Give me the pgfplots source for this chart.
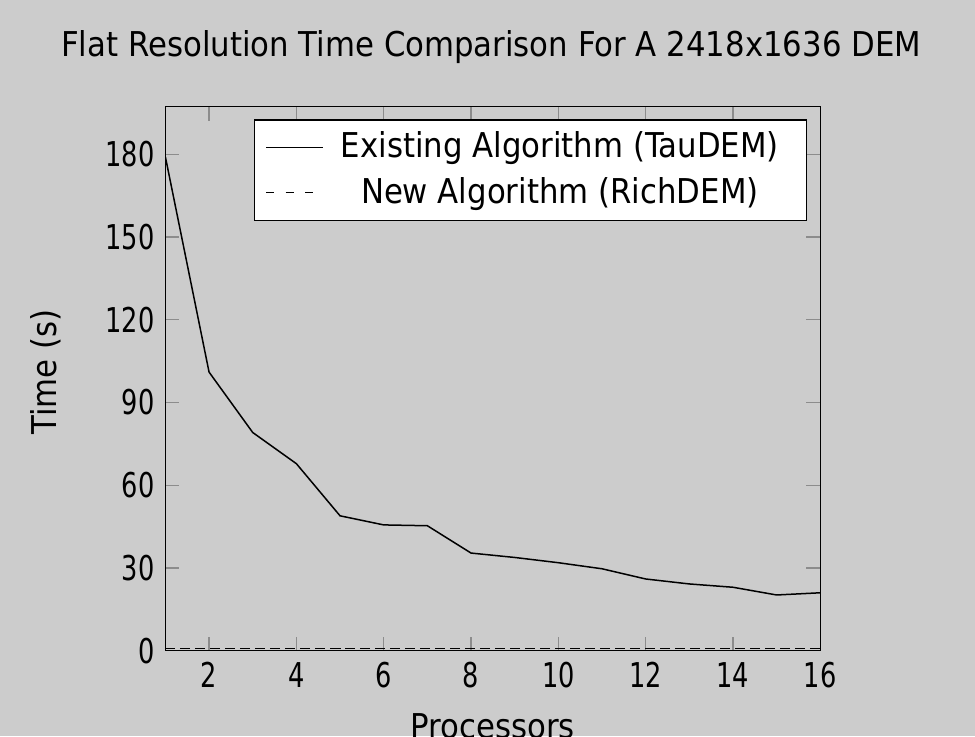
\documentclass[border=0pt]{standalone}
\usepackage{fontspec}
\setmainfont{DejaVu Sans}[FakeStretch=0.9]
\newfontfamily\numfont{DejaVu Sans}[FakeStretch=0.75]
\usepackage{pgfplots}
\pgfplotsset{compat=1.18}
\definecolor{bg}{HTML}{CCCCCC}
\definecolor{tickgray}{HTML}{8C8C8C}

\begin{document}
\fontsize{17.1}{20.5}\selectfont
\begin{tikzpicture}
\path[use as bounding box, fill=bg] (0,0) rectangle (487.5pt,368pt);
\clip (0,0) rectangle (487.5pt,368pt);
\begin{axis}[
  at={(82.7pt,42.65pt)}, anchor=south west,
  scale only axis, width=327.45pt, height=272pt,
  xmin=1, xmax=16, ymin=0, ymax=197.2,
  xtick={2,4,...,16}, ytick={0,30,...,180},
  /pgf/number format/assume math mode=true,
  axis line style={line width=0.75pt},
  tick align=inside, major tick length=7pt,
  tick style={tickgray, line width=0.6pt},
  ticklabel style={font=\numfont},
  yticklabel style={inner sep=0pt, xshift=-5.2pt},
  xticklabel style={inner sep=0pt, yshift=-5.65pt},
  title={Flat Resolution Time Comparison For A 2418x1636 DEM},
  title style={at={(0.4975,1.0702)}, anchor=base, inner sep=0pt},
  xlabel={Processors},
  xlabel style={at={(0.5,-0.1605)}, anchor=base, inner sep=0pt},
  ylabel={Time (s)},
  ylabel style={at={(-0.1823,0.512)}, anchor=center, inner sep=0pt, rotate=0},
  legend cell align=center,
  legend image code/.code={\draw[#1] (0pt,0pt) -- (28.5pt,0pt);},
  legend style={at={(1,1)}, anchor=north east, xshift=-6.65pt, yshift=-6.3pt,
    fill=white, draw=black, line width=0.6pt, inner xsep=5.3pt, inner ysep=6pt,
    row sep=7pt, font=\fontsize{17.1}{20.5}\selectfont,
    nodes={inner sep=0pt}, column sep=0pt},
]
\addplot[black, line width=0.75pt] coordinates {
  (1,179) (2,101) (3,79.1) (4,67.8) (5,48.9) (6,45.6) (7,45.3) (8,35.4)
  (9,33.8) (10,31.9) (11,29.7) (12,26.0) (13,24.2) (14,23.0) (15,20.2) (16,21.0)
};
\addplot[black, line width=0.75pt, dash pattern=on 5pt off 2.5pt,
  legend image post style={dash pattern=on 4pt off 5.8pt}] coordinates {
  (1,0.8) (2,0.8) (3,0.8) (4,0.8) (5,0.8) (6,0.8) (7,0.8) (8,0.8)
  (9,0.8) (10,0.8) (11,0.8) (12,0.8) (13,0.8) (14,0.8) (15,0.8) (16,0.8)
};
\legend{\makebox[236pt]{Existing Algorithm (TauDEM)}, \makebox[236pt]{New Algorithm (RichDEM)}}
\end{axis}
\end{tikzpicture}
\end{document}
